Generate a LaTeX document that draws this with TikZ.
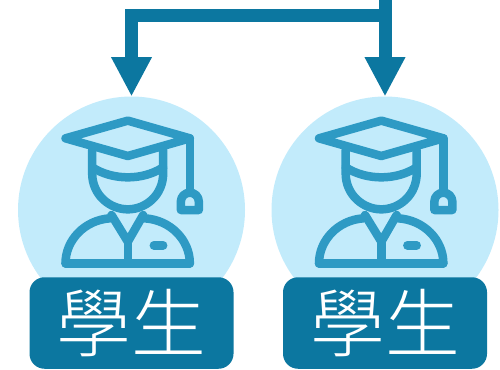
\documentclass[tikz,border=0pt]{standalone}
\usepackage{fontspec}
\usetikzlibrary{arrows.meta}
\newfontfamily\cjk[UprightFont=* Light]{Noto Sans CJK TC}
\definecolor{bubble}{HTML}{C2EBFB}
\definecolor{iconblue}{HTML}{2E9AC4}
\definecolor{deepblue}{HTML}{0C77A0}
\tikzset{
	bubblenode/.style={circle,fill=bubble,minimum size=4.54cm,inner sep=0pt,outer sep=0pt},
	labelbox/.style={rectangle,rounded corners=.3cm,fill=deepblue,text=white,minimum width=4.08cm,minimum height=1.83cm,inner sep=0pt,font=\cjk\fontsize{42.5}{42.5}\selectfont},
	flow/.style={draw=deepblue,line width=.26cm,-{Triangle[length=.79cm,width=.76cm]}},
	iconline/.style={draw=iconblue,line width=.17cm,line join=round,line cap=round},
	studenticon/.pic={
		\begin{scope}[x=.00667cm,y=-.00667cm,shift={(-395,-360)}]
			% cap and tassel
			\draw [iconline] (384,92) -- (197,145) -- (384,198) -- (570,145) -- cycle;
			\draw [iconline] (570,145) -- (570,305);
			\draw [iconline] (543,360) -- (597,360) -- (597,335) arc (0:-180:27) -- cycle;
			% head
			\draw [iconline] (277,180) -- (277,250) .. controls (277,315) and (330,358) .. (384,358) .. controls (438,358) and (490,315) .. (490,250) -- (490,180);
			\draw [iconline] (277,232) .. controls (340,272) and (428,272) .. (490,232);
			% body
			\draw [iconline] (197,520) .. controls (197,450) and (255,390) .. (330,385);
			\draw [iconline] (570,520) .. controls (570,450) and (512,390) .. (435,385);
			\draw [iconline] (197,520) -- (570,520);
			\draw [iconline] (335,375) -- (384,455) -- (430,375);
			\draw [iconline] (384,455) -- (384,520);
			\draw [iconline] (462,466) -- (490,466);
		\end{scope}
	}
}
\begin{document}
\begin{tikzpicture}
	\useasboundingbox (0,0) rectangle (10,7.38);
	\node (bubbleA) at (2.63,3.18) [bubblenode] {};
	\node (bubbleB) at (7.70,3.18) [bubblenode] {};
	\pic at (bubbleA) {studenticon};
	\pic at (bubbleB) {studenticon};
	\node (labelA) at (2.63,.92) [labelbox] {學生};
	\node (labelB) at (7.70,.92) [labelbox] {學生};
	\coordinate (top) at (7.70,7.38);
	\coordinate (split) at (7.70,7.07);
	\draw [flow] (top) -- (bubbleB.north);
	\draw [flow] (split) -| (bubbleA.north);
\end{tikzpicture}
\end{document}
